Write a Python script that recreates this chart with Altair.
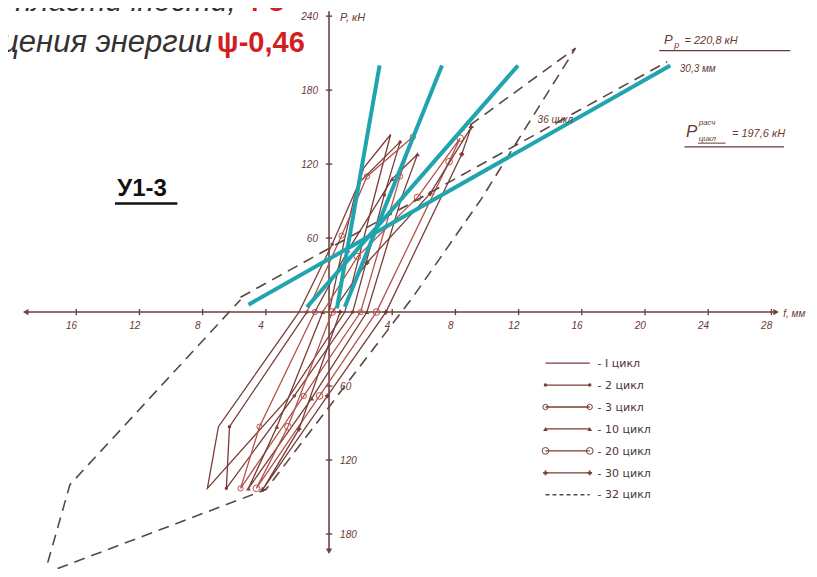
import altair as alt
import pandas as pd

# ---------------- data (f in mm, P in kN) ----------------
F_DOMAIN = [-20.32, 30.38]
P_DOMAIN = [-208.4, 246.6]

c1_f = [0.0, 1.0, 1.6, 2.2, 3.9, 3.0, 1.0, -2.6, -7.7, -7.0, -1.9]
c1_P = [0, 60, 93, 117, 144, 100, 0, -70, -143, -93, 0]
c2_f = [-1.9, 0.2, 1.9, 4.5, 3.5, 1.5, -2.2, -6.5, -6.3, -1.4]
c2_P = [0, 55, 105, 138, 95, 0, -68, -143, -93, 0]
c3_f = [-1.4, 0.8, 2.4, 5.3, 4.5, 2.0, -1.6, -5.6, -4.4, -0.9]
c3_P = [0, 62, 110, 142, 110, 0, -68, -143, -93, 0]
c10_f = [-0.9, 1.2, 4.0, 5.6, 4.6, 2.4, -1.1, -5.1, -3.3, -0.4]
c10_P = [0, 50, 108, 128, 93, 0, -70, -143, -93, 0]
c20_f = [-0.4, 1.8, 5.6, 8.3, 7.6, 3.0, -0.6, -4.6, -2.6, 0.2]
c20_P = [0, 45, 93, 141, 122, 0, -68, -143, -93, 0]
c30_f = [0.2, 2.4, 6.4, 9.0, 8.4, 3.6, -0.1, -4.2, -1.9, 0.7]
c30_P = [0, 40, 96, 150, 128, 0, -68, -144, -95, 0]
c32_f = [8.0, 15.6, 9.6, 5.3, -4.0, -18.0, -16.4, -5.6]
c32_P = [143, 214, 91, 12, -144, -212, -140, 10]
c36_f = [-5.6, 21.4]
c36_P = [12, 203]

# stiffness (secant) lines
cyan_f0 = [0.5, 1.0, -1.4, -5.1]
cyan_P0 = [3, 4, 4, 6]
cyan_f1 = [3.2, 7.15, 11.96, 21.6]
cyan_P1 = [200, 200, 200, 200]

x_ticks = [-16, -12, -8, -4, 4, 8, 12, 16, 20, 24, 28]
y_ticks_pos = [60, 120, 180, 240]
y_ticks_neg = [-60, -120, -180]

legend_labels = ["- I цикл", "- 2 цикл", "- 3 цикл", "- 10 цикл", "- 20 цикл", "- 30 цикл", "- 32 цикл"]

BROWN = "#7a3d38"
RED = "#b5524a"
DASH = "#5c4644"
CYAN = "#20a4ad"
TXT = "#6a3a34"

xs = alt.Scale(domain=F_DOMAIN, nice=False, zero=False)
ys = alt.Scale(domain=P_DOMAIN, nice=False, zero=False)


def X(field="f"):
    return alt.X(f"{field}:Q", scale=xs, axis=None)


def Y(field="P"):
    return alt.Y(f"{field}:Q", scale=ys, axis=None)


def seg_rule(f, f2, P, P2, color, width=1.5, dash=None):
    df = pd.DataFrame({"f": f, "f2": f2, "P": P, "P2": P2})
    kw = dict(color=color, strokeWidth=width)
    if dash:
        kw["strokeDash"] = dash
    return alt.Chart(df).mark_rule(**kw).encode(
        x=X(), x2="f2:Q", y=Y(), y2="P2:Q")


def poly(fs, Ps, color, width=1.3, dash=None):
    df = pd.DataFrame({"f": fs, "P": Ps, "o": list(range(len(fs)))})
    kw = dict(color=color, strokeWidth=width)
    if dash:
        kw["strokeDash"] = dash
    return alt.Chart(df).mark_line(**kw).encode(x=X(), y=Y(), order="o:Q")


def pts(fs, Ps, shape, filled, size, color):
    df = pd.DataFrame({"f": fs, "P": Ps})
    return alt.Chart(df).mark_point(shape=shape, filled=filled, size=size,
                                    color=color, opacity=1, strokeWidth=1).encode(x=X(), y=Y())


def txt(f, P, t, size=11, color=TXT, align="left", style="italic", weight="normal",
        font="Liberation Sans", baseline="alphabetic"):
    df = pd.DataFrame({"f": [f], "P": [P], "t": [t]})
    return alt.Chart(df).mark_text(align=align, baseline=baseline, fontSize=size, color=color,
                                   fontStyle=style, fontWeight=weight, font=font).encode(
        x=X(), y=Y(), text="t:N")


layers = []

# axes
layers.append(seg_rule([-19.2], [28.3], [0], [0], "#6e4040", 1.6))
layers.append(seg_rule([0], [0], [-194], [244], "#6e4040", 1.6))
layers.append(pts([-19.2], [0], "triangle-left", True, 40, "#6e4040"))
layers.append(pts([28.3], [0], "triangle-right", True, 40, "#6e4040"))
layers.append(pts([0], [-194], "triangle-down", True, 40, "#6e4040"))
# tick marks
layers.append(seg_rule(x_ticks, x_ticks, [-2.5] * len(x_ticks), [2.5] * len(x_ticks), "#6e4040", 1.4))
yt = y_ticks_pos + y_ticks_neg
layers.append(seg_rule([-0.2] * len(yt), [0.2] * len(yt), yt, yt, "#6e4040", 1.4))
# tick labels
for v in x_ticks:
    layers.append(txt(v - 0.3, -14, str(abs(v)), size=10, align="center"))
for v in y_ticks_pos:
    layers.append(txt(-0.7, v - 3, str(v), size=10, align="right"))
for v in y_ticks_neg:
    layers.append(txt(0.7, v - 3, str(abs(v)), size=10, align="left"))
layers.append(txt(0.7, 236, "P, кН", size=11))
layers.append(txt(28.75, -4, "f, мм", size=10))

# hysteresis loops
loops = [
    (c1_f, c1_P, BROWN, None),
    (c2_f, c2_P, BROWN, ("circle", True, 12)),
    (c3_f, c3_P, RED, ("circle", False, 28)),
    (c10_f, c10_P, BROWN, ("triangle-up", True, 22)),
    (c20_f, c20_P, RED, ("circle", False, 45)),
    (c30_f, c30_P, BROWN, ("cross", True, 22)),
]
for fs, Ps, col, mk in loops:
    layers.append(poly(fs, Ps, col, 1.3))
    if mk:
        layers.append(pts(fs[1:], Ps[1:], mk[0], mk[1], mk[2], col))

layers.append(poly(c32_f, c32_P, DASH, 1.6, [11, 7]))
layers.append(poly(c36_f, c36_P, DASH, 1.6, [11, 7]))

# cyan stiffness lines
layers.append(seg_rule(cyan_f0, cyan_f1, cyan_P0, cyan_P1, CYAN, 4))

# annotations
layers.append(txt(13.2, 153, "36 цикл", size=10))
layers.append(txt(22.2, 195, "30,3 мм", size=10))
layers.append(txt(21.2, 217, "P", size=13))
layers.append(txt(21.85, 214.5, "р", size=9))
layers.append(txt(22.5, 217, "= 220,8 кН", size=11))
layers.append(seg_rule([20.9], [29.2], [212], [212], TXT, 1.3))
layers.append(txt(22.6, 142, "P", size=17))
layers.append(txt(23.4, 152, "расч", size=8))
layers.append(txt(23.4, 139, "цикл", size=8))
layers.append(seg_rule([23.35], [25.1], [137], [137], TXT, 1))
layers.append(txt(25.5, 142, "= 197,6 кН", size=11))
layers.append(seg_rule([22.5], [28.8], [134], [134], TXT, 1.3))

layers.append(txt(-13.4, 94, "У1-3", size=24, color="#111111", style="normal", weight="bold"))
layers.append(seg_rule([-13.55], [-9.6], [88], [88], "#111111", 2.5))

# title fragments (cut by the frame)
layers.append(txt(-5.9, 244, "Коэффициент пластичности,", size=30, color="#333333", align="right"))
layers.append(txt(-5.4, 244, "4-8", size=28, color="#d21f1f", style="normal", weight="bold"))
layers.append(txt(-7.4, 211, "Коэффициент поглощения энергии", size=31, color="#333333", align="right"))
layers.append(txt(-7.1, 211, "ψ-0,46", size=29, color="#d21f1f", style="normal", weight="bold"))

# legend
leg_top = -41.4
leg_step = 17.8
leg_marks = [None, ("circle", True, 12), ("circle", False, 28), ("triangle-up", True, 22),
             ("circle", False, 45), ("cross", True, 22), None]
for i, lab in enumerate(legend_labels):
    P = leg_top - leg_step * i
    if i == 6:
        layers.append(seg_rule([13.7], [16.5], [P], [P], DASH, 1.4, [4, 3]))
    else:
        layers.append(seg_rule([13.7], [16.5], [P], [P], BROWN, 1.3))
    mk = leg_marks[i]
    if mk:
        layers.append(pts([13.7, 16.5], [P, P], mk[0], mk[1], mk[2], BROWN))
    layers.append(txt(17.0, P - 3, lab, size=11, color="#4a3533", style="normal",
                      font="DejaVu Sans"))

chart = alt.layer(*layers).properties(
    width=801, height=561, padding=0,
    autosize=alt.AutoSizeParams(type="none"),
    background="white",
).configure_view(stroke=None)

chart.save("out.html", embed_options={"renderer": "svg", "actions": False})
